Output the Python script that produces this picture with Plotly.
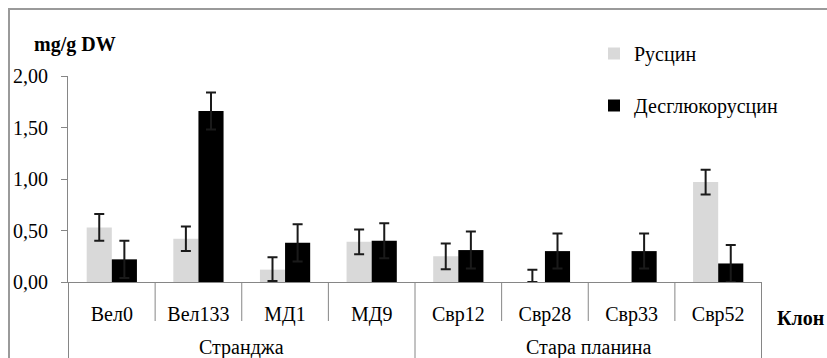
import plotly.graph_objects as go

groups = ["Странджа"] * 4 + ["Стара планина"] * 4
clones = ["Вел0", "Вел133", "МД1", "МД9", "Свр12", "Свр28", "Свр33", "Свр52"]
ruscin = [0.53, 0.42, 0.12, 0.39, 0.25, 0.0, None, 0.97]
ruscin_err = [0.13, 0.12, 0.12, 0.12, 0.125, 0.12, None, 0.12]
ruscin_err_minus = [0.13, 0.12, 0.11, 0.12, 0.125, 0.0, None, 0.12]
desgl = [0.22, 1.66, 0.38, 0.40, 0.31, 0.30, 0.30, 0.18]
desgl_err = [0.18, 0.18, 0.18, 0.17, 0.18, 0.17, 0.17, 0.18]
series_names = ["Русцин", "Десглюкорусцин"]
y_ticks = [0, 0.5, 1.0, 1.5, 2.0]

FONT = "Liberation Serif"
FS = 20
W, H = 827, 358
L, R, T, B = 68, 65, 76, 76
pw, ph = W - L - R, H - T - B

def px2x(p):
    return (p - L) / pw

def py2y(p):
    return (H - B - p) / ph

err_style = dict(color="#1a1a1a", thickness=2, width=5)

fig = go.Figure()
fig.add_trace(go.Bar(
    x=clones, y=ruscin, name=series_names[0], marker_color="#d9d9d9",
    marker_line_width=0, legendgroup="a",
    error_y=dict(type="data", array=ruscin_err, arrayminus=ruscin_err_minus, **err_style),
))
fig.add_trace(go.Bar(
    x=clones, y=desgl, name=series_names[1], marker_color="#000000",
    marker_line_width=0, legendgroup="b",
    error_y=dict(type="data", array=desgl_err, **err_style),
))

shapes = []
annotations = []
# category dividers; group boundaries run to the bottom edge
for i in range(len(clones) + 1):
    is_group_edge = i in (0, len(clones)) or groups[i] != groups[i - 1]
    y1 = py2y(H + 5) if is_group_edge else py2y(321)
    shapes.append(dict(type="line", xref="x", yref="paper", x0=i - 0.5, x1=i - 0.5,
                       y0=0, y1=y1, line=dict(color="#868686", width=1)))
# group labels centred under their categories
seen = []
for g in groups:
    if g not in seen:
        seen.append(g)
for g in seen:
    idx = [i for i, gg in enumerate(groups) if gg == g]
    annotations.append(dict(text=g, xref="x", yref="paper", x=sum(idx) / len(idx),
                            y=py2y(347), xanchor="center", yanchor="middle", showarrow=False,
                            font=dict(family=FONT, size=FS, color="#000")))
# outer chart border
shapes.append(dict(type="line", xref="paper", yref="paper", x0=px2x(9), x1=px2x(9),
                   y0=py2y(8), y1=py2y(H + 5), line=dict(color="#9a9a9a", width=2)))
shapes.append(dict(type="line", xref="paper", yref="paper", x0=px2x(8), x1=px2x(W + 5),
                   y0=py2y(9), y1=py2y(9), line=dict(color="#9a9a9a", width=2)))

annotations += [
    dict(text="<b>mg/g DW</b>", xref="paper", yref="paper", x=px2x(32), y=py2y(44),
         xanchor="left", yanchor="middle", showarrow=False,
         font=dict(family=FONT, size=FS, color="#000")),
    dict(text="<b>Клон</b>", xref="paper", yref="paper", x=px2x(775), y=py2y(318),
         xanchor="left", yanchor="middle", showarrow=False,
         font=dict(family=FONT, size=FS, color="#000")),
]

fig.update_layout(
    width=W, height=H,
    margin=dict(l=L, r=R, t=T, b=B, pad=0, autoexpand=False),
    paper_bgcolor="white", plot_bgcolor="white",
    separators=", ",
    barmode="group", bargap=0.42, bargroupgap=0,
    font=dict(family=FONT, size=FS, color="#000"),
    legend=dict(x=px2x(594), y=py2y(34), xanchor="left", yanchor="top",
                bgcolor="rgba(0,0,0,0)", tracegroupgap=23,
                font=dict(family=FONT, size=FS, color="#000")),
    shapes=shapes,
    annotations=annotations,
)
fig.update_xaxes(
    type="category", showline=True, linecolor="#868686", linewidth=1,
    ticks="", showgrid=False, ticklabelstandoff=14,
    tickfont=dict(family=FONT, size=FS, color="#000"),
)
fig.update_yaxes(
    range=[0, 2], tickvals=y_ticks, tickformat=".2f",
    showline=True, linecolor="#868686", linewidth=1,
    ticks="outside", ticklen=6, tickcolor="#868686", showgrid=False, zeroline=False,
    ticklabelstandoff=9,
    tickfont=dict(family=FONT, size=FS, color="#000"),
)

fig.write_html("out.html", config={"displayModeBar": False},
               post_script="document.body.style.margin='0';document.body.style.overflow='hidden';")
